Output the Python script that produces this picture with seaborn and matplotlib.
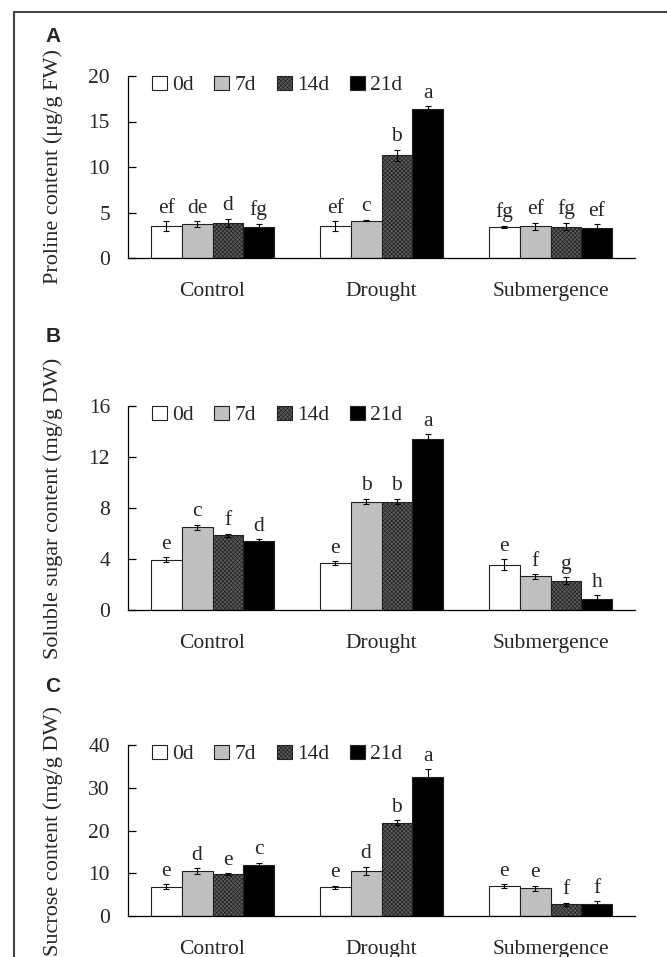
import numpy as np
import pandas as pd
import matplotlib
matplotlib.use("Agg")
import matplotlib.pyplot as plt
import seaborn as sns
from matplotlib.patches import Patch
from matplotlib.lines import Line2D
from matplotlib.container import BarContainer

# ---------------- data ----------------
treatments = ["Control", "Drought", "Submergence"]
days = ["0d", "7d", "14d", "21d"]

# rows: treatment, columns: day
proline_mean = [[3.5, 3.75, 3.85, 3.4],
                [3.5, 4.1, 11.3, 16.4],
                [3.4, 3.5, 3.45, 3.35]]
proline_err = [[0.55, 0.3, 0.45, 0.37],
               [0.55, 0.08, 0.6, 0.26],
               [0.12, 0.4, 0.4, 0.37]]
proline_letters = [["ef", "de", "d", "fg"],
                   ["ef", "c", "b", "a"],
                   ["fg", "ef", "fg", "ef"]]

sugar_mean = [[3.95, 6.5, 5.85, 5.4],
              [3.68, 8.5, 8.5, 13.4],
              [3.55, 2.63, 2.3, 0.9]]
sugar_err = [[0.18, 0.2, 0.15, 0.13],
             [0.15, 0.22, 0.22, 0.4],
             [0.42, 0.18, 0.26, 0.26]]
sugar_letters = [["e", "c", "f", "d"],
                 ["e", "b", "b", "a"],
                 ["e", "f", "g", "h"]]

sucrose_mean = [[6.9, 10.5, 9.8, 12.0],
                [6.7, 10.5, 21.8, 32.4],
                [7.0, 6.5, 2.7, 2.7]]
sucrose_err = [[0.55, 0.65, 0.25, 0.47],
               [0.4, 1.0, 0.55, 1.9],
               [0.4, 0.55, 0.45, 0.8]]
sucrose_letters = [["e", "d", "e", "c"],
                   ["e", "d", "b", "a"],
                   ["e", "e", "f", "f"]]

ylabels = ["Proline content (\u03bcg/g FW)",
           "Soluble sugar content (mg/g DW)",
           "Sucrose content (mg/g DW)"]
yticks_list = [[0, 5, 10, 15, 20], [0, 4, 8, 12, 16], [0, 10, 20, 30, 40]]
panel_tags = ["A", "B", "C"]

# ---------------- style ----------------
sns.set_theme(style="white")
plt.rcParams["font.family"] = ["Liberation Serif", "DejaVu Serif"]
plt.rcParams["hatch.linewidth"] = 0.5

day_colors = ["#ffffff", "#c0c0c0", "#5c5c5c", "#000000"]
day_hatches = [None, None, "xxxxxxxx", None]

W, H = 667, 957
fig = plt.figure(figsize=(W / 100, H / 100), dpi=100)

# axes pixel boxes (left, top, right, bottom)
boxes = [(128, 76, 635, 258), (128, 406, 635, 610), (128, 745, 635, 916)]
tag_pos = [(53, 36), (53, 336), (53, 687)]

panels = [(proline_mean, proline_err, proline_letters),
          (sugar_mean, sugar_err, sugar_letters),
          (sucrose_mean, sucrose_err, sucrose_letters)]

FS = 15.5

for i, (means, errs, letters) in enumerate(panels):
    l, t, r, b = boxes[i]
    ax = fig.add_axes([l / W, 1 - b / H, (r - l) / W, (b - t) / H])
    rows = []
    for ti, tr in enumerate(treatments):
        for di, d in enumerate(days):
            rows.append({"Treatment": tr, "Day": d, "value": means[ti][di],
                         "err": errs[ti][di], "letter": letters[ti][di]})
    df = pd.DataFrame(rows)
    sns.barplot(data=df, x="Treatment", y="value", hue="Day",
                order=treatments, hue_order=days, palette=day_colors,
                width=0.73, gap=0, saturation=1, errorbar=None,
                edgecolor="#222222", linewidth=0.8, legend=False, ax=ax)
    bar_conts = [c for c in ax.containers if isinstance(c, BarContainer)]
    for di, cont in enumerate(bar_conts):
        for bar in cont.patches:
            xc = bar.get_x() + bar.get_width() / 2
            ti = int(round(xc))
            if day_hatches[di]:
                bar.set_hatch(day_hatches[di])
            rec = df[(df.Treatment == treatments[ti]) & (df.Day == days[di])].iloc[0]
            h, e = rec["value"], rec["err"]
            ax.errorbar(xc, h, yerr=e, fmt="none", ecolor="black",
                        elinewidth=0.8, capsize=2.5, capthick=0.8, zorder=5)
            ax.annotate(rec["letter"], (xc, h + e), xytext=(0, 2.5),
                        textcoords="offset points", ha="center", va="bottom",
                        fontsize=FS)
    ax.set_xlim(-0.5, 2.5)
    ax.set_ylim(yticks_list[i][0], yticks_list[i][-1])
    ax.set_yticks(yticks_list[i])
    ax.set_xticks(range(len(treatments)))
    ax.set_xticklabels(treatments, fontsize=FS)
    ax.set_xticks([-0.5, 0.5, 1.5, 2.5], minor=True)
    ax.tick_params(axis="x", which="major", length=0, pad=17)
    ax.tick_params(axis="x", which="minor", direction="in", length=6,
                   width=0.9, color="black")
    ax.tick_params(axis="y", direction="in", length=6, width=0.9,
                   color="black", pad=13, labelsize=FS, left=True)
    ax.set_xlabel("")
    ax.set_ylabel(ylabels[i], fontsize=16)
    ax.yaxis.set_label_coords(-0.128, 0.5)
    for s in ["top", "right"]:
        ax.spines[s].set_visible(False)
    for s in ["left", "bottom"]:
        ax.spines[s].set_color("black")
        ax.spines[s].set_linewidth(0.9)
    handles = [Patch(facecolor=c, edgecolor="#222222", hatch=h, linewidth=0.8)
               for c, h in zip(day_colors, day_hatches)]
    ax.legend(handles, days, ncol=4, loc="upper left",
              bbox_to_anchor=(0.047, 1.0), frameon=False, borderpad=0,
              borderaxespad=0, handlelength=0.7, handleheight=0.6,
              handletextpad=0.25, columnspacing=0.95, fontsize=FS)
    fig.text(tag_pos[i][0] / W, 1 - tag_pos[i][1] / H, panel_tags[i],
             fontfamily="Liberation Sans", fontweight="bold", fontsize=15,
             ha="center", va="center")

# outer frame (left and top edges)
fig.add_artist(Line2D([14 / W, 14 / W], [0, 1 - 12 / H], transform=fig.transFigure,
                      color="#444444", linewidth=1.5))
fig.add_artist(Line2D([14 / W, 1], [1 - 12 / H, 1 - 12 / H], transform=fig.transFigure,
                      color="#444444", linewidth=1.5))

fig.savefig("out.png", dpi=100)
